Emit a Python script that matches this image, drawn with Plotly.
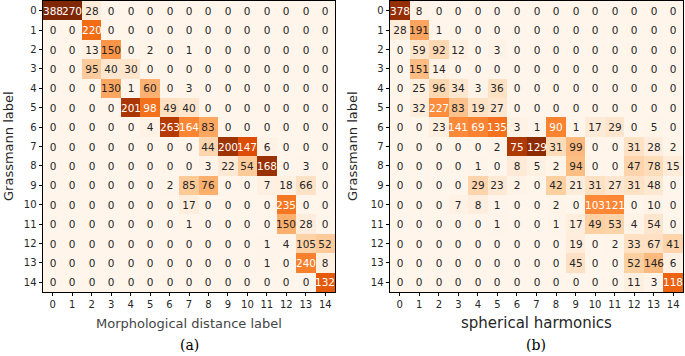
import numpy as np
import plotly.graph_objects as go

labels = list(range(15))
tick_text = [str(i) for i in labels]

# Panel (a): Grassmann label vs Morphological distance label
morph_counts = [
    [388, 270, 28, 0, 0, 0, 0, 0, 0, 0, 0, 0, 0, 0, 0],
    [0, 0, 220, 0, 0, 0, 0, 0, 0, 0, 0, 0, 0, 0, 0],
    [0, 0, 13, 150, 0, 2, 0, 1, 0, 0, 0, 0, 0, 0, 0],
    [0, 0, 95, 40, 30, 0, 0, 0, 0, 0, 0, 0, 0, 0, 0],
    [0, 0, 0, 130, 1, 60, 0, 3, 0, 0, 0, 0, 0, 0, 0],
    [0, 0, 0, 0, 201, 98, 49, 40, 0, 0, 0, 0, 0, 0, 0],
    [0, 0, 0, 0, 0, 4, 263, 164, 83, 0, 0, 0, 0, 0, 0],
    [0, 0, 0, 0, 0, 0, 0, 0, 44, 200, 147, 6, 0, 0, 0],
    [0, 0, 0, 0, 0, 0, 0, 0, 3, 22, 54, 168, 0, 3, 0],
    [0, 0, 0, 0, 0, 0, 2, 85, 76, 0, 0, 7, 18, 66, 0],
    [0, 0, 0, 0, 0, 0, 0, 17, 0, 0, 0, 0, 235, 0, 0],
    [0, 0, 0, 0, 0, 0, 0, 1, 0, 0, 0, 0, 150, 28, 0],
    [0, 0, 0, 0, 0, 0, 0, 0, 0, 0, 0, 1, 4, 105, 52],
    [0, 0, 0, 0, 0, 0, 0, 0, 0, 0, 0, 1, 0, 240, 8],
    [0, 0, 0, 0, 0, 0, 0, 0, 0, 0, 0, 0, 0, 0, 132],
]

# Panel (b): Grassmann label vs spherical harmonics
sph_counts = [
    [378, 8, 0, 0, 0, 0, 0, 0, 0, 0, 0, 0, 0, 0, 0],
    [28, 191, 1, 0, 0, 0, 0, 0, 0, 0, 0, 0, 0, 0, 0],
    [0, 59, 92, 12, 0, 3, 0, 0, 0, 0, 0, 0, 0, 0, 0],
    [0, 151, 14, 0, 0, 0, 0, 0, 0, 0, 0, 0, 0, 0, 0],
    [0, 25, 96, 34, 3, 36, 0, 0, 0, 0, 0, 0, 0, 0, 0],
    [0, 32, 227, 83, 19, 27, 0, 0, 0, 0, 0, 0, 0, 0, 0],
    [0, 0, 23, 141, 69, 135, 3, 1, 90, 1, 17, 29, 0, 5, 0],
    [0, 0, 0, 0, 0, 2, 75, 129, 31, 99, 0, 0, 31, 28, 2],
    [0, 0, 0, 0, 1, 0, 8, 5, 2, 94, 0, 0, 47, 78, 15],
    [0, 0, 0, 0, 29, 23, 2, 0, 42, 21, 31, 27, 31, 48, 0],
    [0, 0, 0, 7, 8, 1, 0, 0, 2, 0, 103, 121, 0, 10, 0],
    [0, 0, 0, 0, 0, 1, 0, 0, 1, 17, 49, 53, 4, 54, 0],
    [0, 0, 0, 0, 0, 0, 0, 0, 0, 19, 0, 2, 33, 67, 41],
    [0, 0, 0, 0, 0, 0, 0, 0, 0, 45, 0, 0, 52, 146, 6],
    [0, 0, 0, 0, 0, 0, 0, 0, 0, 0, 0, 0, 11, 3, 118],
]

W, H = 685, 356
DARK = "#262626"
FONT = "DejaVu Sans"


def col_norm(counts):
    a = np.array(counts, dtype=float)
    s = a.sum(axis=0)
    s[s == 0] = 1
    return a / s


fig = go.Figure()


def add_panel(counts, xa, ya):
    z = col_norm(counts)
    a = np.array(counts)
    dark_txt = [[str(a[i, j]) if z[i, j] < 0.5 else "" for j in labels] for i in labels]
    light_txt = [[str(a[i, j]) if z[i, j] >= 0.5 else "" for j in labels] for i in labels]
    fig.add_trace(go.Heatmap(
        z=z, x=labels, y=labels, colorscale="Oranges", zmin=0, zmax=1,
        showscale=False, text=dark_txt, texttemplate="%{text}",
        textfont=dict(family=FONT, size=10.5, color=DARK),
        hoverinfo="skip", xaxis=xa, yaxis=ya))
    fig.add_trace(go.Heatmap(
        z=z, x=labels, y=labels,
        colorscale=[[0, "rgba(0,0,0,0)"], [1, "rgba(0,0,0,0)"]],
        showscale=False, text=light_txt, texttemplate="%{text}",
        textfont=dict(family=FONT, size=10.5, color="white"),
        hoverinfo="skip", xaxis=xa, yaxis=ya))


add_panel(morph_counts, "x", "y")
add_panel(sph_counts, "x2", "y2")

ydom = [1 - 292 / H, 1 - 1 / H]
axis_common = dict(
    tickmode="array", tickvals=labels, ticktext=tick_text,
    ticks="outside", ticklen=3.5, tickwidth=0.8, tickcolor="black",
    showline=True, linecolor="black", linewidth=0.8, mirror=True,
    showgrid=False, zeroline=False,
    tickfont=dict(family=FONT, size=10, color=DARK),
)

fig.update_layout(
    width=W, height=H,
    margin=dict(l=0, r=0, t=0, b=0),
    paper_bgcolor="white", plot_bgcolor="white",
    showlegend=False,
    xaxis=dict(domain=[43 / W, 335 / W], range=[-0.5, 14.5], anchor="y", **axis_common),
    yaxis=dict(domain=ydom, range=[14.5, -0.5], anchor="x", **axis_common),
    xaxis2=dict(domain=[390 / W, 683 / W], range=[-0.5, 14.5], anchor="y2", **axis_common),
    yaxis2=dict(domain=ydom, range=[14.5, -0.5], anchor="x2", **axis_common),
)

ann = [
    dict(text="Morphological distance label", x=189 / W, y=1 - 323 / H,
         font=dict(family=FONT, size=13, color="#444444")),
    dict(text="spherical harmonics", x=536 / W, y=1 - 323 / H,
         font=dict(family=FONT, size=15, color=DARK)),
    dict(text="Grassmann label", x=8 / W, y=1 - 146 / H, textangle=-90,
         font=dict(family=FONT, size=13, color=DARK)),
    dict(text="Grassmann label", x=352 / W, y=1 - 146 / H, textangle=-90,
         font=dict(family=FONT, size=13, color=DARK)),
    dict(text="(a)", x=189 / W, y=1 - 345 / H,
         font=dict(family="DejaVu Serif", size=14, color="black")),
    dict(text="(b)", x=536 / W, y=1 - 345 / H,
         font=dict(family="DejaVu Serif", size=14, color="black")),
]
for a in ann:
    a.update(xref="paper", yref="paper", showarrow=False, xanchor="center", yanchor="middle")
fig.update_layout(annotations=ann)

fig.write_html(
    "out.html",
    config={"displayModeBar": False},
    post_script="document.body.style.margin='0';document.body.style.overflow='hidden';",
)
